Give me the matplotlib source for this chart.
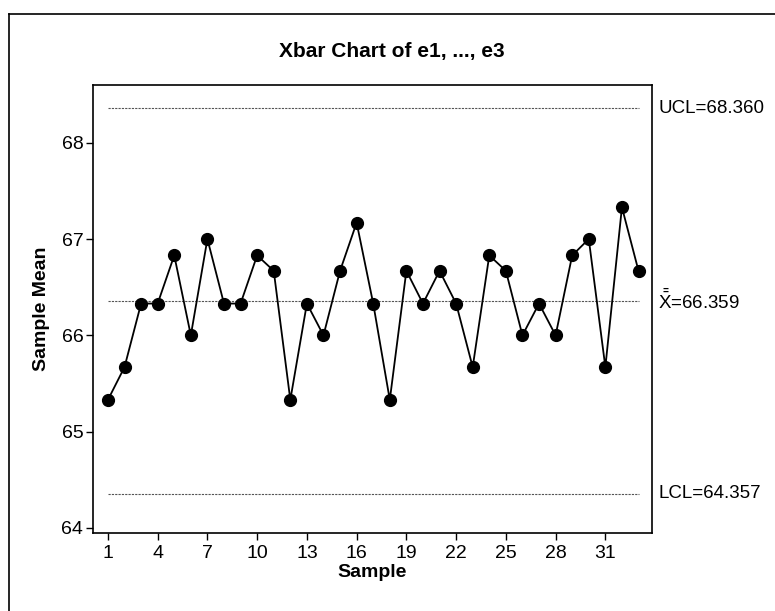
import matplotlib
matplotlib.use('Agg')
import matplotlib.pyplot as plt
from matplotlib.lines import Line2D

plt.rcParams['font.family'] = ['Liberation Sans', 'DejaVu Sans']
plt.rcParams['mathtext.fontset'] = 'custom'
plt.rcParams['mathtext.rm'] = 'Liberation Sans'

# sample means
samples = list(range(1, 34))
means = [65.33, 65.67, 66.33, 66.33, 66.83, 66.00, 67.00, 66.33, 66.33, 66.83,
         66.67, 65.33, 66.33, 66.00, 66.67, 67.17, 66.33, 65.33, 66.67, 66.33,
         66.67, 66.33, 65.67, 66.83, 66.67, 66.00, 66.33, 66.00, 66.83, 67.00,
         65.67, 67.33, 66.67]
ucl = 68.360
center = 66.359
lcl = 64.357
xticks = [1, 4, 7, 10, 13, 16, 19, 22, 25, 28, 31]
yticks = [64, 65, 66, 67, 68]

fig = plt.figure(figsize=(7.75, 6.11), dpi=100)
ax = fig.add_axes([0.12, 0.128, 0.721, 0.733])

# control limits and center line
for val in (ucl, center, lcl):
    ax.plot([samples[0], samples[-1]], [val, val], color='#555555', lw=0.8,
            linestyle=(0, (2, 1)))

ax.plot(samples, means, color='black', lw=1.3, marker='o', markersize=8.5,
        markerfacecolor='black', markeredgecolor='black')

ax.set_xlim(0.1, 33.8)
ax.set_ylim(63.95, 68.6)
ax.set_xticks(xticks)
ax.set_yticks(yticks)
ax.tick_params(axis='both', labelsize=14, length=5, width=1, direction='out')
ax.tick_params(axis='y', pad=2)
for s in ax.spines.values():
    s.set_linewidth(1.2)

fig.text(0.505, 1 - 52 / 611, 'Xbar Chart of e1, ..., e3', fontsize=15,
         fontweight='bold', ha='center', va='center')
ax.set_xlabel('Sample', fontsize=14, fontweight='bold', labelpad=2)
ax.set_ylabel('Sample Mean', fontsize=14, fontweight='bold', labelpad=8)

# limit labels on the right
ax.text(1.012, ucl, 'UCL=68.360', transform=ax.get_yaxis_transform(),
        va='center', ha='left', fontsize=13.5)
ax.text(1.012, center, r'$\bar{\bar{\mathrm{X}}}$=66.359', transform=ax.get_yaxis_transform(),
        va='center', ha='left', fontsize=13.5)
ax.text(1.012, lcl, 'LCL=64.357', transform=ax.get_yaxis_transform(),
        va='center', ha='left', fontsize=13.5)

# outer frame (top and left edges visible)
fig.add_artist(Line2D([9 / 775, 1.0], [1 - 14 / 611, 1 - 14 / 611],
                      transform=fig.transFigure, color='black', lw=1.2))
fig.add_artist(Line2D([9 / 775, 9 / 775], [0.0, 1 - 14 / 611],
                      transform=fig.transFigure, color='black', lw=1.2))

fig.savefig('out.png', dpi=100)
